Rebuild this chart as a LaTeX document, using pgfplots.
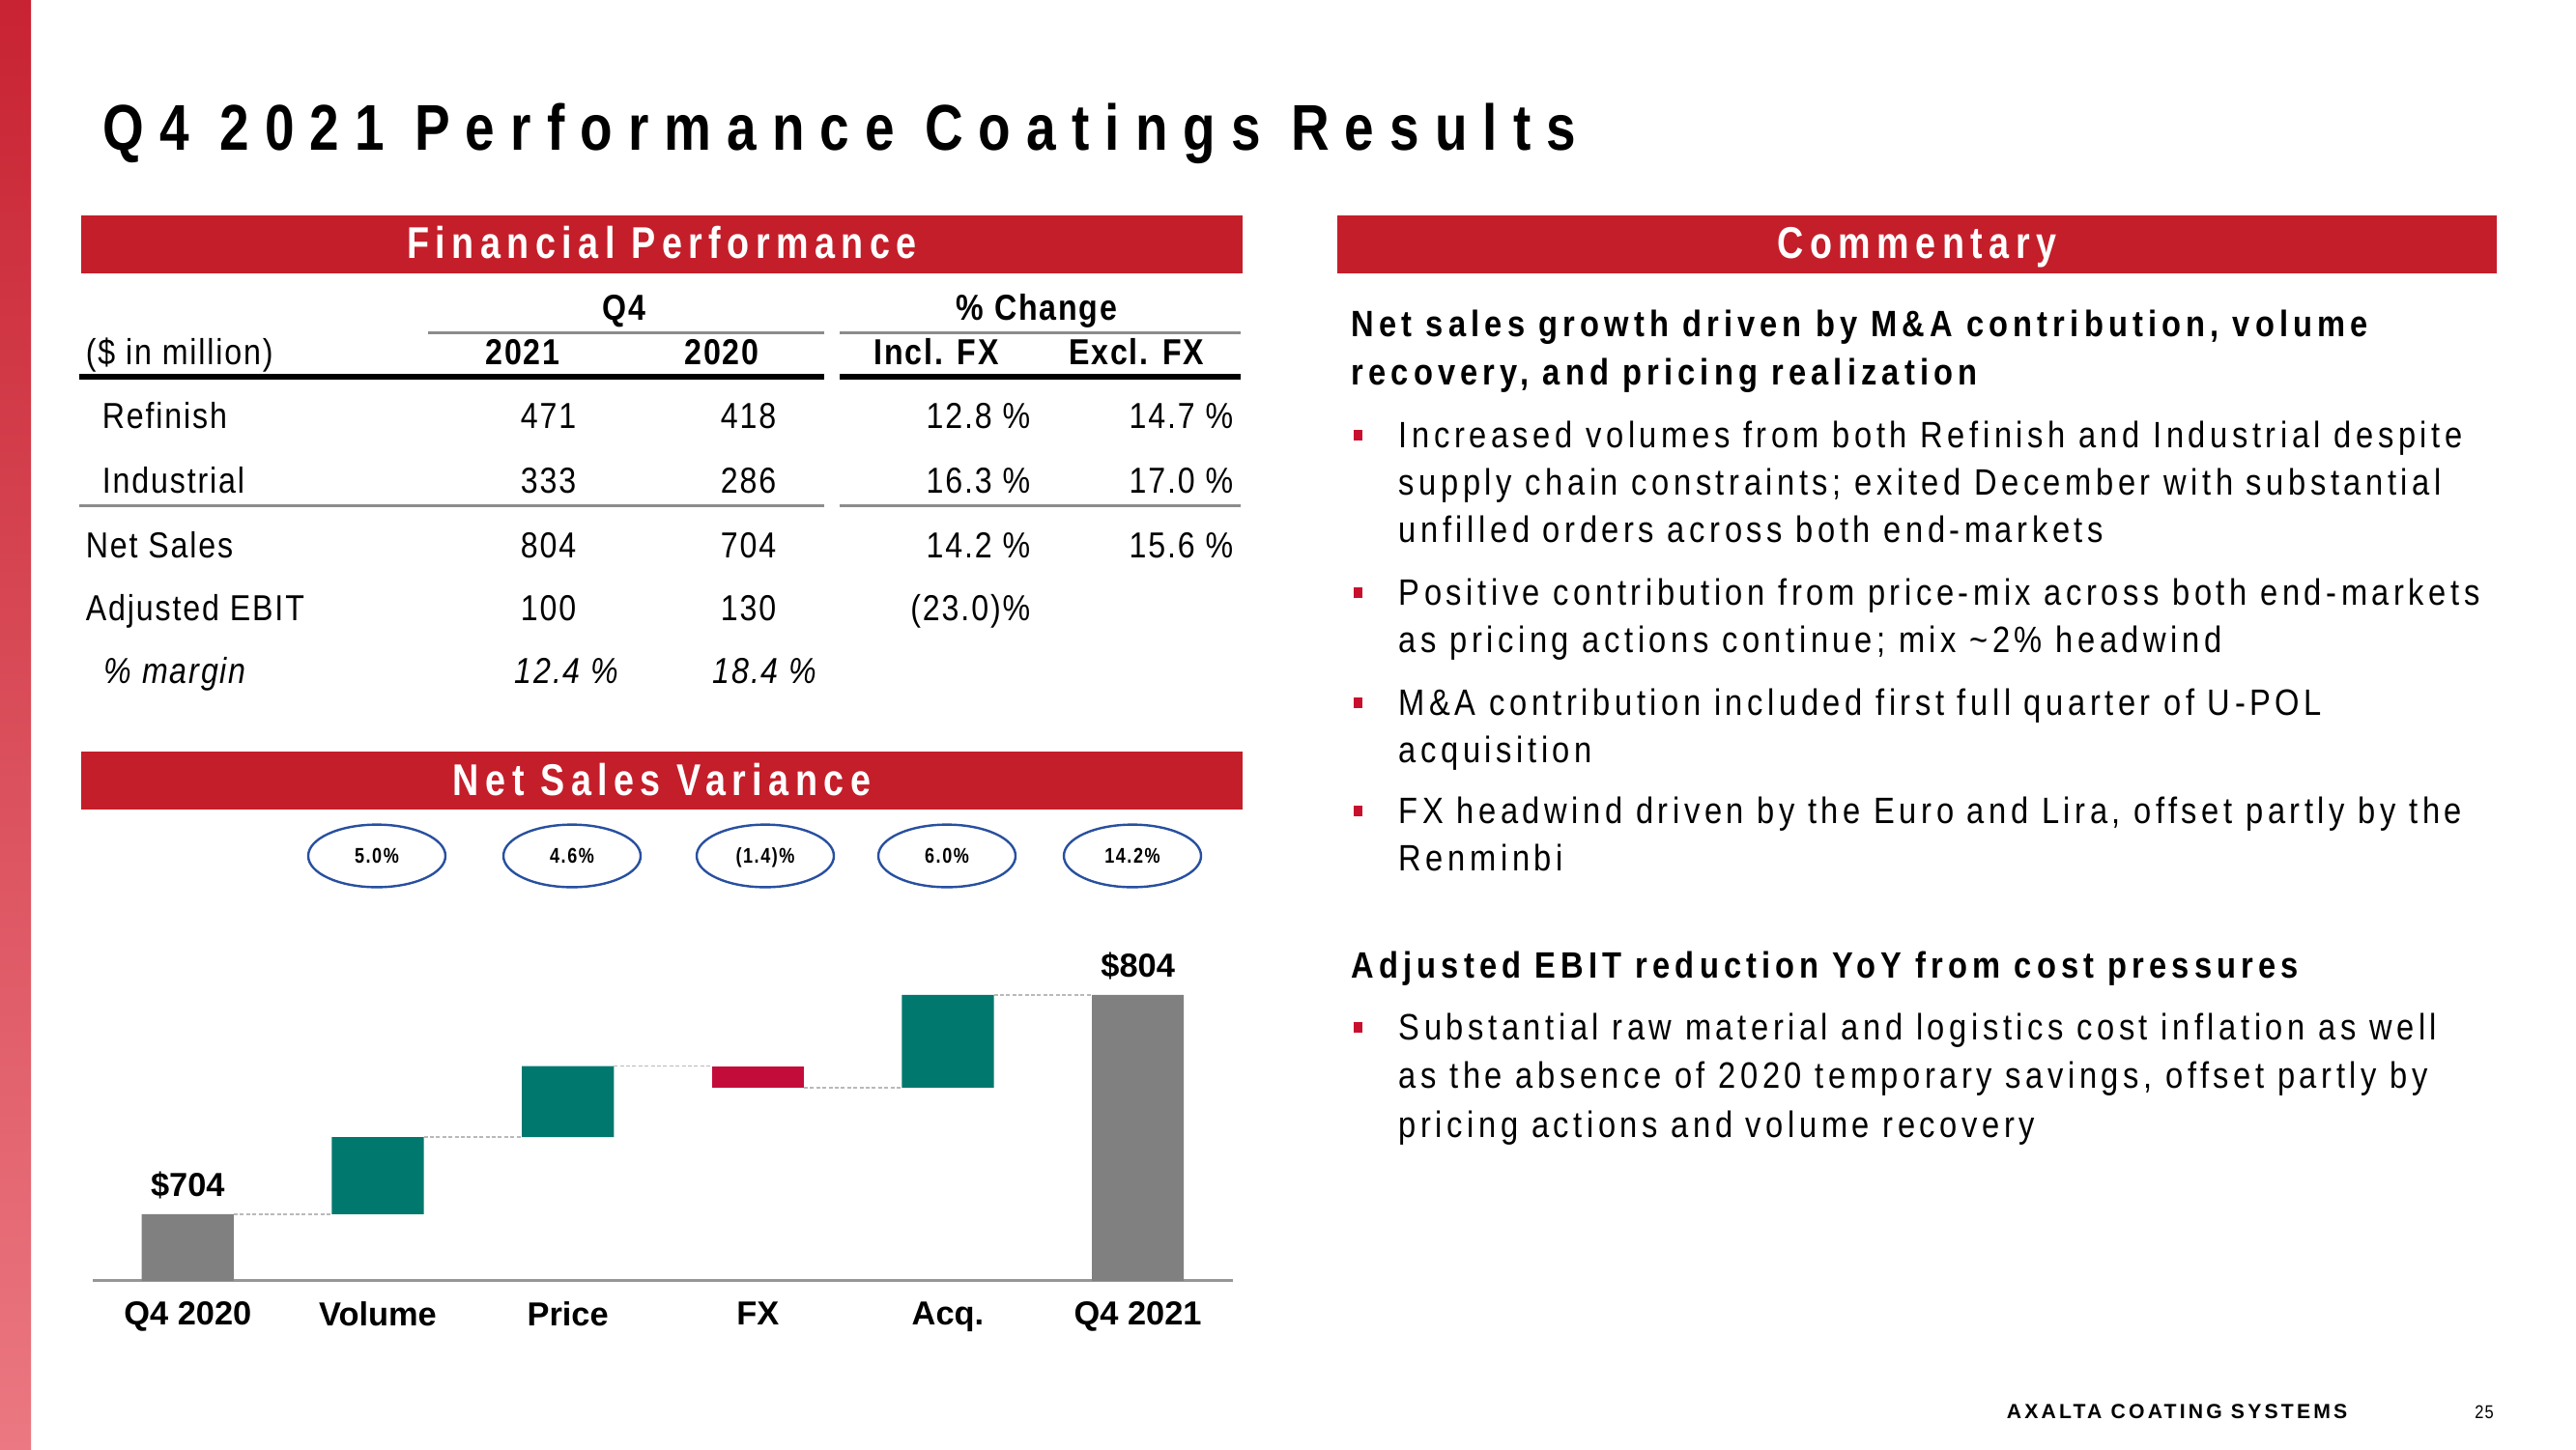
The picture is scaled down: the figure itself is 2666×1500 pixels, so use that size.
\documentclass[border=0pt]{standalone}
\usepackage{fontspec}
\usepackage{pgfplots}
\pgfplotsset{compat=1.18}
\setmainfont{Liberation Sans}
\newfontfamily\titlefont{Liberation Sans}[FakeStretch=0.82,LetterSpace=24]
\newfontfamily\hdrfont{Liberation Sans}[FakeStretch=0.82,LetterSpace=14]
\newfontfamily\tabfont{Liberation Sans}[FakeStretch=0.86,LetterSpace=5]
\newfontfamily\comfont{Liberation Sans}[FakeStretch=0.86,LetterSpace=12]
\newfontfamily\comBfont{Liberation Sans}[FakeStretch=0.86,LetterSpace=13.5]
\newfontfamily\footfont{Liberation Sans}[LetterSpace=15]
\newfontfamily\circfont{Liberation Sans}[FakeStretch=0.82,LetterSpace=7]
\definecolor{hdrred}{RGB}{196,30,42}
\definecolor{stripA}{RGB}{200,35,50}
\definecolor{stripB}{RGB}{235,120,130}
\definecolor{tealbar}{RGB}{0,120,110}
\definecolor{fxred}{RGB}{196,12,58}
\definecolor{bargray}{RGB}{128,128,128}
\definecolor{axisgray}{RGB}{150,150,150}
\definecolor{circblue}{RGB}{40,80,160}
\definecolor{bulred}{RGB}{200,16,46}
\definecolor{tabgray}{RGB}{140,140,140}
\newcommand{\tabR}{\tabfont\fontsize{9.35pt}{11pt}\selectfont}
\newcommand{\tabB}{\tabfont\bfseries\fontsize{9.35pt}{11pt}\selectfont}
\newcommand{\tabI}{\tabfont\itshape\fontsize{9.35pt}{11pt}\selectfont}
\newcommand{\comR}{\comfont\fontsize{9.5pt}{11pt}\selectfont}
\newcommand{\comB}{\comBfont\bfseries\fontsize{9.5pt}{11pt}\selectfont}
\newcommand{\hdr}{\hdrfont\bfseries\fontsize{11.5pt}{13pt}\selectfont}
\newcommand{\chartfont}{\bfseries\fontsize{8.6pt}{10pt}\selectfont}
\newcommand{\circtxt}{\circfont\bfseries\fontsize{5.5pt}{6.5pt}\selectfont}
\begin{document}
\begin{tikzpicture}
\begin{scope}[x=0.25pt,y=-0.25pt]
\useasboundingbox (0,0) rectangle (2666,1500);
\fill[white] (0,0) rectangle (2666,1500);
\shade[top color=stripA, bottom color=stripB] (0,0) rectangle (32,1500);
% title
\node[anchor=base west, inner sep=0] at (106,155) {\titlefont\bfseries\fontsize{16.75pt}{20pt}\selectfont Q4 2021 Performance Coatings Results};
% header bars
\fill[hdrred] (84,223) rectangle (1286,283);
\node[anchor=base, inner sep=0, text=white] at (685,267) {\hdr Financial Performance};
\fill[hdrred] (1384,223) rectangle (2584,283);
\node[anchor=base, inner sep=0, text=white] at (1984,267) {\hdr Commentary};
\fill[hdrred] (84,778) rectangle (1286,838);
\node[anchor=base, inner sep=0, text=white] at (685,823) {\hdr Net Sales Variance};
% table
\node[anchor=base, inner sep=0] at (646,331) {\tabB Q4};
\node[anchor=base, inner sep=0] at (1073,331) {\tabB \% Change};
\draw[tabgray, line width=0.75pt] (443,344) -- (853,344) (869,344) -- (1284,344);
\node[anchor=base west, inner sep=0] at (88,377) {\tabR (\$ in million)};
\node[anchor=base, inner sep=0] at (541,377) {\tabB 2021};
\node[anchor=base, inner sep=0] at (747,377) {\tabB 2020};
\node[anchor=base, inner sep=0] at (969,377) {\tabB Incl. FX};
\node[anchor=base, inner sep=0] at (1176,377) {\tabB Excl. FX};
\draw[black, line width=1.5pt] (82,390) -- (853,390) (869,390) -- (1284,390);
\draw[tabgray, line width=0.75pt] (82,523) -- (853,523) (869,523) -- (1284,523);
% rows
\node[anchor=base west, inner sep=0] at (105,443) {\tabR Refinish};
\node[anchor=base east, inner sep=0] at (597,443) {\tabR 471};
\node[anchor=base east, inner sep=0] at (804,443) {\tabR 418};
\node[anchor=base east, inner sep=0] at (1067,443) {\tabR 12.8 \%};
\node[anchor=base east, inner sep=0] at (1277,443) {\tabR 14.7 \%};
\node[anchor=base west, inner sep=0] at (105,510) {\tabR Industrial};
\node[anchor=base east, inner sep=0] at (597,510) {\tabR 333};
\node[anchor=base east, inner sep=0] at (804,510) {\tabR 286};
\node[anchor=base east, inner sep=0] at (1067,510) {\tabR 16.3 \%};
\node[anchor=base east, inner sep=0] at (1277,510) {\tabR 17.0 \%};
\node[anchor=base west, inner sep=0] at (88,577) {\tabR Net Sales};
\node[anchor=base east, inner sep=0] at (597,577) {\tabR 804};
\node[anchor=base east, inner sep=0] at (804,577) {\tabR 704};
\node[anchor=base east, inner sep=0] at (1067,577) {\tabR 14.2 \%};
\node[anchor=base east, inner sep=0] at (1277,577) {\tabR 15.6 \%};
\node[anchor=base west, inner sep=0] at (88,642) {\tabR Adjusted EBIT};
\node[anchor=base east, inner sep=0] at (597,642) {\tabR 100};
\node[anchor=base east, inner sep=0] at (804,642) {\tabR 130};
\node[anchor=base east, inner sep=0] at (1067,642) {\tabR (23.0)\%};
\node[anchor=base west, inner sep=0] at (107,707) {\tabI \% margin};
\node[anchor=base east, inner sep=0] at (641,707) {\tabI 12.4 \%};
\node[anchor=base east, inner sep=0] at (846,707) {\tabI 18.4 \%};
% circles
\foreach \cx/\t in {390/5.0\%, 592/4.6\%, 792/(1.4)\%, 980/6.0\%, 1172/14.2\%}{
  \draw[circblue, line width=0.6pt] (\cx,886) ellipse [x radius=17.75pt, y radius=8.1pt];
  \node[anchor=base, inner sep=0] at (\cx,893) {\circtxt \t};
}
% commentary
\node[anchor=base west, inner sep=0] at (1398,348) {\comB Net sales growth driven by M\&A contribution, volume};
\node[anchor=base west, inner sep=0] at (1398,398) {\comB recovery, and pricing realization};
\foreach \yy in {463.5,626.5,740.5,852.5,1076.5}{
  \fill[bulred] (1401,\yy-19) rectangle (1410,\yy-8);
}
\node[anchor=base west, inner sep=0] at (1447,463.5) {\comR Increased volumes from both Refinish and Industrial despite};
\node[anchor=base west, inner sep=0] at (1447,512.5) {\comR supply chain constraints; exited December with substantial};
\node[anchor=base west, inner sep=0] at (1447,561.5) {\comR unfilled orders across both end-markets};
\node[anchor=base west, inner sep=0] at (1447,626.5) {\comR Positive contribution from price-mix across both end-markets};
\node[anchor=base west, inner sep=0] at (1447,675.5) {\comR as pricing actions continue; mix \textasciitilde2\% headwind};
\node[anchor=base west, inner sep=0] at (1447,740.5) {\comR M\&A contribution included first full quarter of U-POL};
\node[anchor=base west, inner sep=0] at (1447,789.5) {\comR acquisition};
\node[anchor=base west, inner sep=0] at (1447,852.5) {\comR FX headwind driven by the Euro and Lira, offset partly by the};
\node[anchor=base west, inner sep=0] at (1447,901.5) {\comR Renminbi};
\node[anchor=base west, inner sep=0] at (1398,1012.5) {\comB Adjusted EBIT reduction YoY from cost pressures};
\node[anchor=base west, inner sep=0] at (1447,1076.5) {\comR Substantial raw material and logistics cost inflation as well};
\node[anchor=base west, inner sep=0] at (1447,1126.5) {\comR as the absence of 2020 temporary savings, offset partly by};
\node[anchor=base west, inner sep=0] at (1447,1177.5) {\comR pricing actions and volume recovery};
% footer
\node[anchor=base west, inner sep=0] at (2076,1468) {\footfont\bfseries\fontsize{5.3pt}{6pt}\selectfont AXALTA COATING SYSTEMS};
\node[anchor=base, inner sep=0] at (2571,1468) {\tabfont\fontsize{4.8pt}{6pt}\selectfont 25};
\end{scope}
% waterfall bars
\begin{axis}[
  at={(24pt,-331.25pt)}, anchor=south west,
  scale only axis, width=295pt, height=88.5pt,
  xmin=-0.5, xmax=5.5, ymin=674, ymax=830,
  ybar stacked, bar width=0.484,
  axis x line*=bottom, axis y line=none,
  x axis line style={draw=axisgray, line width=0.75pt, -},
  xtick={0,1,2,3,4,5},
  xticklabels={Q4 2020,Volume,Price,FX,Acq.,Q4 2021},
  xtick style={draw=none}, ytick=\empty,
  xticklabel style={font=\chartfont, inner sep=0pt, anchor=north, yshift=-5.5pt},
]
\addplot[fill=none, draw=none] coordinates {(0,0) (1,704) (2,739.2) (3,761.7) (4,761.7) (5,0)};
\addplot[fill=bargray, draw=none] coordinates {(0,704) (1,0) (2,0) (3,0) (4,0) (5,804)};
\addplot[fill=tealbar, draw=none] coordinates {(0,0) (1,35.2) (2,32.4) (3,0) (4,42.3) (5,0)};
\addplot[fill=fxred, draw=none] coordinates {(0,0) (1,0) (2,0) (3,9.9) (4,0) (5,0)};
\end{axis}
% connectors and labels
\begin{axis}[
  at={(24pt,-331.25pt)}, anchor=south west,
  scale only axis, width=295pt, height=88.5pt,
  xmin=-0.5, xmax=5.5, ymin=674, ymax=830,
  hide axis, clip=false,
]
\addplot[gray!55, line width=0.4pt, dash pattern=on 1pt off 0.6pt, no marks] coordinates {(0.242,704) (0.758,704)};
\addplot[gray!55, line width=0.4pt, dash pattern=on 1pt off 0.6pt, no marks] coordinates {(1.242,739.2) (1.758,739.2)};
\addplot[gray!55, line width=0.4pt, dash pattern=on 1pt off 0.6pt, no marks] coordinates {(2.242,771.6) (2.758,771.6)};
\addplot[gray!55, line width=0.4pt, dash pattern=on 1pt off 0.6pt, no marks] coordinates {(3.242,761.7) (3.758,761.7)};
\addplot[gray!55, line width=0.4pt, dash pattern=on 1pt off 0.6pt, no marks] coordinates {(4.242,804) (4.758,804)};
\node[anchor=base, inner sep=0, yshift=4.7pt, font=\chartfont] at (axis cs:0,704) {\$704};
\node[anchor=base, inner sep=0, yshift=4.6pt, font=\chartfont] at (axis cs:5,804) {\$804};
\end{axis}
\end{tikzpicture}
\end{document}
